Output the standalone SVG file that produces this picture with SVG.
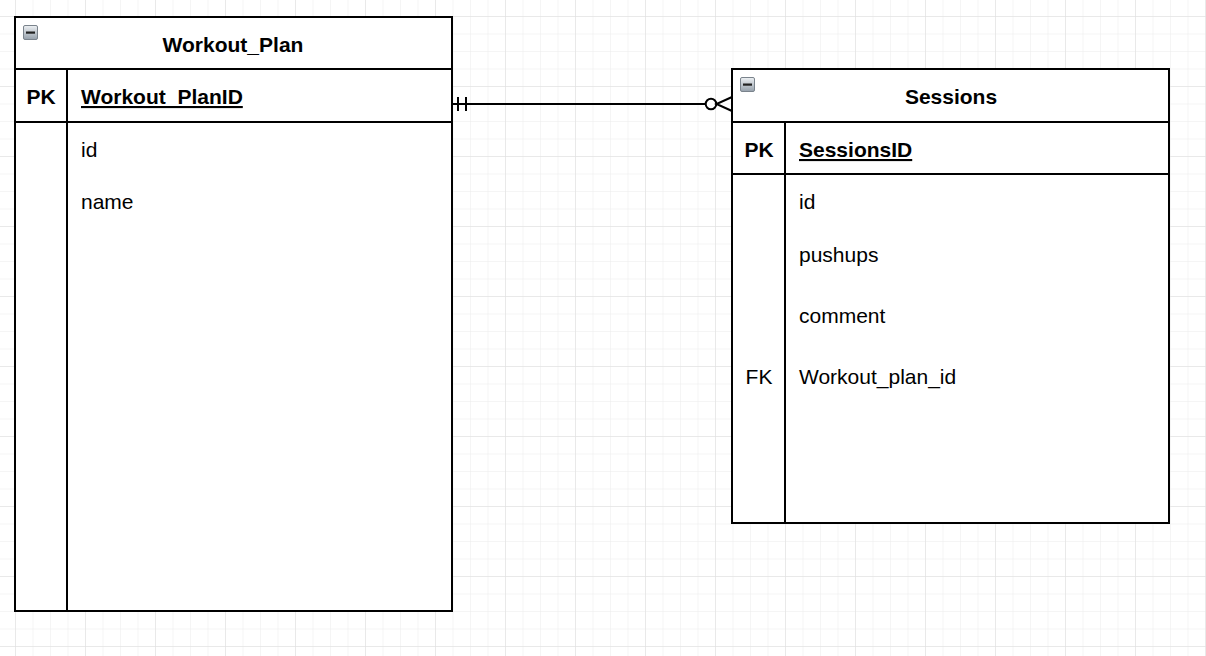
<svg xmlns="http://www.w3.org/2000/svg" width="1206" height="656" viewBox="0 0 1206 656">
<defs>
<pattern id="minor" x="15" y="16" width="17.5" height="17.5" patternUnits="userSpaceOnUse">
<path d="M17.5 0H0V17.5" fill="none" stroke="#ebebeb" stroke-width="1"/>
</pattern>
<pattern id="major" x="15" y="16" width="70" height="70" patternUnits="userSpaceOnUse">
<path d="M70 0H0V70" fill="none" stroke="#dedede" stroke-width="1"/>
</pattern>
<linearGradient id="ico" x1="0" y1="0" x2="0" y2="1">
<stop offset="0" stop-color="#eef1f4"/>
<stop offset="1" stop-color="#95a0ab"/>
</linearGradient>
<g id="minus">
<rect x="0.5" y="0.5" width="14" height="14" rx="1.5" fill="url(#ico)" stroke="#7a838c"/>
<rect x="3" y="6.5" width="9" height="2.2" fill="#222"/>
</g>
</defs>
<style>
.box{fill:#fff;stroke:#000;stroke-width:2}
.ln{stroke:#000;stroke-width:2;fill:none}
.t{font-family:"Liberation Sans",Arial,sans-serif;font-size:21px;fill:#000}
.b{font-weight:bold}
.u{text-decoration:underline}
.m{text-anchor:middle}
</style>
<rect width="1206" height="656" fill="#fff"/>
<rect width="1206" height="656" fill="url(#minor)"/>
<rect width="1206" height="656" fill="url(#major)"/>

<g id="connectors">
<path class="ln" d="M452 104H705.5"/>
<path class="ln" d="M458 97V111M466 97V111"/>
<circle cx="711" cy="104" r="5.3" fill="#fff" stroke="#000" stroke-width="2"/>
<path class="ln" d="M732 97L716.5 104L732 111"/>
</g>

<g id="workout_plan">
<rect class="box" x="15" y="17" width="437" height="594"/>
<path class="ln" d="M15 69H452M15 122H452M67 69V611"/>
<use href="#minus" x="23" y="25"/>
<text class="t b m" x="233" y="52">Workout_Plan</text>
<text class="t b m" x="41" y="104">PK</text>
<text class="t b u" x="81" y="104">Workout_PlanID</text>
<text class="t" x="81" y="157">id</text>
<text class="t" x="81" y="209">name</text>
</g>

<g id="sessions">
<rect class="box" x="732" y="69" width="437" height="454"/>
<path class="ln" d="M732 122H1169M732 174H1169M785 122V523"/>
<use href="#minus" x="740" y="77"/>
<text class="t b m" x="951" y="104">Sessions</text>
<text class="t b m" x="759" y="157">PK</text>
<text class="t b u" x="799" y="157">SessionsID</text>
<text class="t" x="799" y="209">id</text>
<text class="t" x="799" y="262">pushups</text>
<text class="t" x="799" y="323">comment</text>
<text class="t m" x="759" y="384">FK</text>
<text class="t" x="799" y="384">Workout_plan_id</text>
</g>
</svg>
